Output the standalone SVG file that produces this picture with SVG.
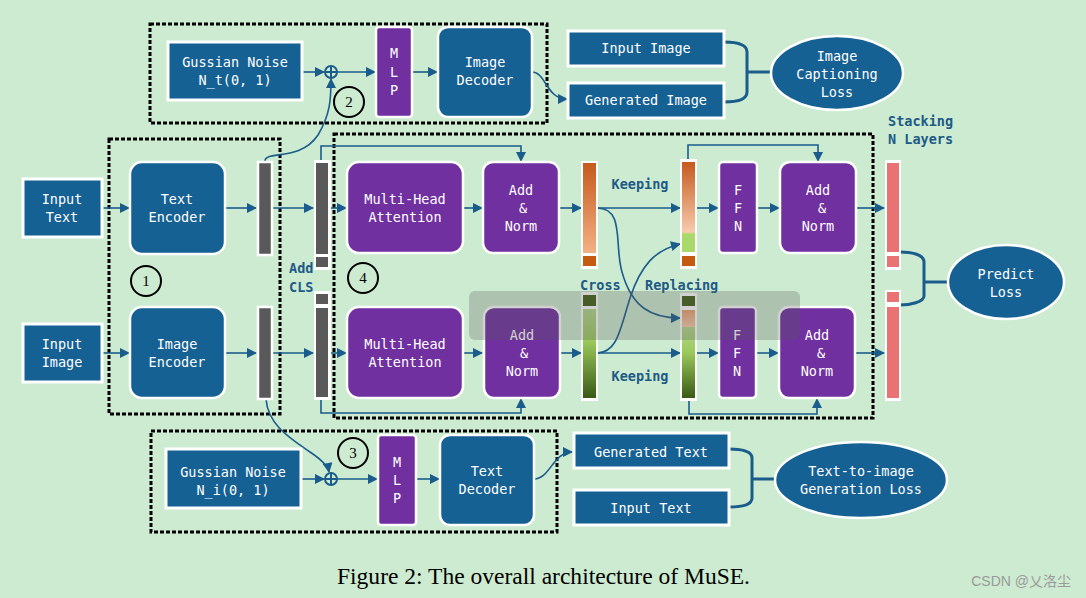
<svg xmlns="http://www.w3.org/2000/svg" width="1086" height="598" viewBox="0 0 1086 598">
<defs>
<marker id="ah" viewBox="0 0 10 10" refX="9" refY="5" markerWidth="11" markerHeight="10" markerUnits="userSpaceOnUse" orient="auto">
<path d="M0,0 L10,5 L0,10 z" fill="#1a5c8c"/>
</marker>
<linearGradient id="gOr" x1="0" y1="0" x2="0" y2="1">
<stop offset="0" stop-color="#c55a1e"/><stop offset="1" stop-color="#f4b183"/>
</linearGradient>
<linearGradient id="gMixTop" x1="0" y1="0" x2="0" y2="1">
<stop offset="0" stop-color="#c55a1e"/><stop offset="0.78" stop-color="#f8cbad"/><stop offset="0.8" stop-color="#a9d96a"/><stop offset="1" stop-color="#a9d96a"/>
</linearGradient>
<linearGradient id="gGr" x1="0" y1="0" x2="0" y2="1">
<stop offset="0" stop-color="#b3d68f"/><stop offset="0.35" stop-color="#9ccb5c"/><stop offset="1" stop-color="#3a5a15"/>
</linearGradient>
<linearGradient id="gPeach" x1="0" y1="0" x2="0" y2="1">
<stop offset="0" stop-color="#e9a070"/><stop offset="1" stop-color="#f8cbad"/>
</linearGradient>
</defs>
<style>
.bg{fill:#cdebd0}
.blue{fill:#156194;stroke:#fff;stroke-width:3}
.rblue{fill:#156194;stroke:#fff;stroke-width:2.5}
.purp{fill:#7030a0;stroke:#fff;stroke-width:2.5}
.dash{fill:none;stroke:#000;stroke-width:3;stroke-dasharray:4 2}
.wt{font-family:"DejaVu Sans Mono","Liberation Mono",monospace;font-size:13.5px;fill:#fff;text-anchor:middle}
.lb{font-family:"DejaVu Sans Mono","Liberation Mono",monospace;font-size:13.5px;font-weight:bold;fill:#1e5a87}
.ln{fill:none;stroke:#1a5c8c;stroke-width:1.6}
.ar{fill:none;stroke:#1a5c8c;stroke-width:1.6;marker-end:url(#ah)}
.br{fill:none;stroke:#1a5c8c;stroke-width:3}
.circ{fill:none;stroke:#000;stroke-width:2}
.num{font-family:"Liberation Serif",serif;font-size:15px;fill:#000;text-anchor:middle}
.gbar{fill:#595959;stroke:#fff;stroke-width:2.5}
.wbg{fill:#fff}
.pink{fill:#e87372}
.ell{fill:#156194;stroke:#fff;stroke-width:2.5}
</style>
<rect class="bg" x="0" y="0" width="1086" height="598"/>

<!-- dashed groups -->
<g id="dashed-boxes">
<rect class="dash" x="150" y="24" width="397" height="99"/>
<rect class="dash" x="109" y="139" width="171" height="275"/>
<rect class="dash" x="334" y="134" width="539" height="284"/>
<rect class="dash" x="151" y="431" width="406" height="101"/>
</g>

<!-- connectors -->
<g id="connectors">
<!-- top branch -->
<line class="ar" x1="302" y1="72" x2="324" y2="72"/>
<line class="ar" x1="337" y1="72" x2="375" y2="72"/>
<line class="ar" x1="412" y1="72" x2="437" y2="72"/>
<path class="ar" d="M532,72 C546,72 546,99 567,99"/>
<path class="ar" d="M265,161 C265,150 300,162 318,135 C330,115 331,100 331,79"/>
<!-- encoders -->
<line class="ar" x1="102" y1="208" x2="129" y2="208"/>
<line class="ar" x1="102" y1="353" x2="129" y2="353"/>
<line class="ar" x1="225" y1="208" x2="256" y2="208"/>
<line class="ar" x1="225" y1="353" x2="256" y2="353"/>
<line class="ar" x1="272" y1="208" x2="313" y2="208"/>
<line class="ar" x1="272" y1="353" x2="313" y2="353"/>
<line class="ar" x1="330" y1="208" x2="346" y2="208"/>
<line class="ar" x1="330" y1="353" x2="346" y2="353"/>
<line class="ar" x1="463" y1="208" x2="482" y2="208"/>
<line class="ar" x1="463" y1="353" x2="482" y2="353"/>
<line class="ar" x1="559" y1="208" x2="581" y2="208"/>
<line class="ar" x1="559" y1="353" x2="581" y2="353"/>
<!-- residuals -->
<path class="ar" d="M321,161 V146 H521 V161"/>
<path class="ar" d="M321,399 V413 H521 V399"/>
<path class="ar" d="M688,160 V145 H818 V161"/>
<path class="ar" d="M689,400 V414 H817 V399"/>
<!-- keeping -->
<line class="ar" x1="597" y1="208" x2="680" y2="208"/>
<line class="ar" x1="597" y1="353" x2="680" y2="353"/>
<!-- cross replacing -->
<path class="ar" d="M597,208 C625,208 614,245 622,272 C632,308 652,318 680,318"/>
<path class="ar" d="M597,353 C617,353 620,330 630,298 C641,265 655,250 680,244"/>
<!-- ffn -->
<line class="ar" x1="696" y1="208" x2="718" y2="208"/>
<line class="ar" x1="696" y1="353" x2="718" y2="353"/>
<line class="ar" x1="757" y1="208" x2="779" y2="208"/>
<line class="ar" x1="757" y1="353" x2="778" y2="353"/>
<line class="ar" x1="856" y1="208" x2="884" y2="208"/>
<line class="ar" x1="855" y1="353" x2="884" y2="353"/>
<!-- bottom branch -->
<path class="ar" d="M266,399 C268,425 290,438 310,452 C322,460 328,466 329,472"/>
<line class="ar" x1="301" y1="479" x2="324" y2="479"/>
<line class="ar" x1="337" y1="479" x2="377" y2="479"/>
<line class="ar" x1="416" y1="479" x2="439" y2="479"/>
<path class="ar" d="M534,479 C550,479 553,452 572,452"/>
<!-- brackets -->
<path class="br" d="M724,42 C735,42 747,44 747,52 V92 C747,100 735,102 724,102"/>
<line class="br" x1="747" y1="72" x2="770" y2="72"/>
<path class="br" d="M900,252 C910,252 924,254 924,262 V296 C924,302 910,305 900,305"/>
<line class="br" x1="924" y1="282" x2="948" y2="282"/>
<path class="br" d="M729,449 C740,449 752,451 752,458 V498 C752,505 740,507 729,507"/>
<line class="br" x1="752" y1="479" x2="778" y2="479"/>
</g>

<!-- plus nodes -->
<g id="plus-top">
<circle cx="331" cy="72" r="6" fill="none" stroke="#1a5c8c" stroke-width="2"/>
<line x1="325" y1="72" x2="337" y2="72" stroke="#1a5c8c" stroke-width="2"/>
<line x1="331" y1="66" x2="331" y2="78" stroke="#1a5c8c" stroke-width="2"/>
</g>
<g id="plus-bottom">
<circle cx="331" cy="479" r="6" fill="none" stroke="#1a5c8c" stroke-width="2"/>
<line x1="325" y1="479" x2="337" y2="479" stroke="#1a5c8c" stroke-width="2"/>
<line x1="331" y1="473" x2="331" y2="485" stroke="#1a5c8c" stroke-width="2"/>
</g>

<!-- top branch nodes -->
<g id="noise-t">
<rect class="blue" x="168" y="42" width="134" height="58"/>
<text class="wt" x="235" y="67">Gussian Noise</text>
<text class="wt" x="235" y="85">N_t(0, 1)</text>
</g>
<g id="mlp-top">
<rect class="purp" x="376" y="27" width="36" height="90" rx="3"/>
<text class="wt" x="394" y="58">M</text>
<text class="wt" x="394" y="77">L</text>
<text class="wt" x="394" y="95">P</text>
</g>
<g id="image-decoder">
<rect class="rblue" x="438" y="27" width="94" height="90" rx="10"/>
<text class="wt" x="485" y="67">Image</text>
<text class="wt" x="485" y="85">Decoder</text>
</g>
<g id="input-image-top">
<rect class="blue" x="568" y="31" width="156" height="35"/>
<text class="wt" x="646" y="53">Input Image</text>
</g>
<g id="generated-image">
<rect class="blue" x="568" y="83" width="156" height="35"/>
<text class="wt" x="646" y="105">Generated Image</text>
</g>
<g id="image-captioning-loss">
<ellipse class="ell" cx="837" cy="73" rx="66" ry="37"/>
<text class="wt" x="837" y="61">Image</text>
<text class="wt" x="837" y="79">Captioning</text>
<text class="wt" x="837" y="97">Loss</text>
</g>

<!-- encoders -->
<g id="input-text">
<rect class="blue" x="23" y="179" width="79" height="58"/>
<text class="wt" x="62" y="204">Input</text>
<text class="wt" x="62" y="222">Text</text>
</g>
<g id="input-image">
<rect class="blue" x="23" y="324" width="79" height="58"/>
<text class="wt" x="62" y="349">Input</text>
<text class="wt" x="62" y="367">Image</text>
</g>
<g id="text-encoder">
<rect class="rblue" x="130" y="162" width="95" height="92" rx="12"/>
<text class="wt" x="177" y="204">Text</text>
<text class="wt" x="177" y="222">Encoder</text>
</g>
<g id="image-encoder">
<rect class="rblue" x="130" y="307" width="95" height="91" rx="12"/>
<text class="wt" x="177" y="349">Image</text>
<text class="wt" x="177" y="367">Encoder</text>
</g>
<g id="text-feat">
<rect class="gbar" x="258" y="162" width="14" height="93"/>
</g>
<g id="image-feat">
<rect class="gbar" x="258" y="307" width="14" height="92"/>
</g>
<g id="text-cls">
<rect class="wbg" x="314" y="160" width="17" height="110"/>
<rect fill="#595959" x="316" y="163" width="12" height="91"/>
<rect fill="#595959" x="316" y="257" width="12" height="10"/>
</g>
<g id="image-cls">
<rect class="wbg" x="314" y="291" width="17" height="109"/>
<rect fill="#595959" x="316" y="294" width="12" height="10"/>
<rect fill="#595959" x="316" y="308" width="12" height="89"/>
</g>
<g id="label-addcls">
<text class="lb" x="289" y="273">Add</text>
<text class="lb" x="289" y="292">CLS</text>
</g>
<g id="circle-1"><circle class="circ" cx="146" cy="281" r="15"/><text class="num" x="146" y="286">1</text></g>
<g id="circle-2"><circle class="circ" cx="349" cy="102" r="15"/><text class="num" x="349" y="107">2</text></g>
<g id="circle-3"><circle class="circ" cx="353" cy="453" r="15"/><text class="num" x="353" y="458">3</text></g>
<g id="circle-4"><circle class="circ" cx="363" cy="278" r="15"/><text class="num" x="363" y="283">4</text></g>

<!-- transformer -->
<g id="mha-top">
<rect class="purp" x="347" y="162" width="116" height="91" rx="12"/>
<text class="wt" x="405" y="204">Multi-Head</text>
<text class="wt" x="405" y="222">Attention</text>
</g>
<g id="mha-bottom">
<rect class="purp" x="347" y="307" width="116" height="91" rx="12"/>
<text class="wt" x="405" y="349">Multi-Head</text>
<text class="wt" x="405" y="367">Attention</text>
</g>
<g id="addnorm1-top">
<rect class="purp" x="483" y="162" width="76" height="91" rx="10"/>
<text class="wt" x="521" y="195">Add</text>
<text class="wt" x="523" y="213">&amp;</text>
<text class="wt" x="521" y="231">Norm</text>
</g>
<g id="addnorm1-bottom">
<rect class="purp" x="484" y="307" width="76" height="91" rx="10"/>
<text class="wt" x="522" y="340">Add</text>
<text class="wt" x="524" y="358">&amp;</text>
<text class="wt" x="522" y="376">Norm</text>
</g>
<g id="orange-feat">
<rect class="wbg" x="581" y="161" width="17" height="108"/>
<rect fill="url(#gOr)" x="583" y="163" width="13" height="90"/>
<rect fill="#c55a11" x="583" y="256" width="13" height="10"/>
</g>
<g id="green-feat">
<rect class="wbg" x="581" y="292" width="17" height="109"/>
<rect fill="#3f5f16" x="583" y="295" width="13" height="11"/>
<rect fill="url(#gGr)" x="583" y="309" width="13" height="89"/>
</g>
<g id="mixed-top">
<rect class="wbg" x="680" y="159" width="17" height="110"/>
<rect fill="url(#gMixTop)" x="682" y="162" width="13" height="90"/>
<rect fill="#c55a11" x="682" y="256" width="13" height="10"/>
</g>
<g id="mixed-bottom">
<rect class="wbg" x="680" y="293" width="17" height="108"/>
<rect fill="#3f5f16" x="682" y="296" width="13" height="10"/>
<rect fill="url(#gPeach)" x="682" y="310" width="13" height="17"/>
<rect fill="url(#gGr)" x="682" y="327" width="13" height="71"/>
</g>
<g id="labels">
<text class="lb" x="640" y="189" text-anchor="middle">Keeping</text>
<text class="lb" x="640" y="381" text-anchor="middle">Keeping</text>
<text class="lb" x="580" y="290">Cross</text>
<text class="lb" x="645" y="290">Replacing</text>
<text class="lb" x="888" y="126">Stacking</text>
<text class="lb" x="888" y="144">N Layers</text>
</g>
<g id="ffn-top">
<rect class="purp" x="719" y="162" width="38" height="91" rx="4"/>
<text class="wt" x="738" y="195">F</text>
<text class="wt" x="738" y="213">F</text>
<text class="wt" x="738" y="231">N</text>
</g>
<g id="ffn-bottom">
<rect class="purp" x="719" y="307" width="37" height="91" rx="4"/>
<text class="wt" x="737" y="340">F</text>
<text class="wt" x="737" y="358">F</text>
<text class="wt" x="737" y="376">N</text>
</g>
<g id="addnorm2-top">
<rect class="purp" x="780" y="162" width="76" height="91" rx="10"/>
<text class="wt" x="818" y="195">Add</text>
<text class="wt" x="822" y="213">&amp;</text>
<text class="wt" x="818" y="231">Norm</text>
</g>
<g id="addnorm2-bottom">
<rect class="purp" x="779" y="307" width="76" height="91" rx="10"/>
<text class="wt" x="817" y="340">Add</text>
<text class="wt" x="821" y="358">&amp;</text>
<text class="wt" x="817" y="376">Norm</text>
</g>
<g id="out-top">
<rect class="wbg" x="885" y="160" width="16" height="110"/>
<rect class="pink" x="887" y="163" width="12" height="89"/>
<rect class="pink" x="887" y="256" width="12" height="11"/>
</g>
<g id="out-bottom">
<rect class="wbg" x="885" y="290" width="16" height="111"/>
<rect class="pink" x="887" y="292" width="12" height="10"/>
<rect class="pink" x="887" y="307" width="12" height="91"/>
</g>
<g id="predict-loss">
<ellipse class="ell" cx="1006" cy="282" rx="58" ry="37"/>
<text class="wt" x="1006" y="279">Predict</text>
<text class="wt" x="1006" y="297">Loss</text>
</g>

<!-- bottom branch -->
<g id="noise-i">
<rect class="blue" x="166" y="449" width="135" height="59"/>
<text class="wt" x="233" y="477">Gussian Noise</text>
<text class="wt" x="233" y="495">N_i(0, 1)</text>
</g>
<g id="mlp-bottom">
<rect class="purp" x="378" y="435" width="38" height="90" rx="3"/>
<text class="wt" x="397" y="467">M</text>
<text class="wt" x="397" y="485">L</text>
<text class="wt" x="397" y="503">P</text>
</g>
<g id="text-decoder">
<rect class="rblue" x="440" y="435" width="94" height="90" rx="10"/>
<text class="wt" x="487" y="476">Text</text>
<text class="wt" x="487" y="494">Decoder</text>
</g>
<g id="generated-text">
<rect class="blue" x="574" y="433" width="155" height="35"/>
<text class="wt" x="651" y="457">Generated Text</text>
</g>
<g id="input-text-bottom">
<rect class="blue" x="574" y="490" width="155" height="35"/>
<text class="wt" x="651" y="513">Input Text</text>
</g>
<g id="t2i-loss">
<ellipse class="ell" cx="861" cy="480" rx="86" ry="38"/>
<text class="wt" x="861" y="476">Text-to-image</text>
<text class="wt" x="861" y="494">Generation Loss</text>
</g>

<!-- overlay toolbar (screenshot artifact) -->
<rect x="469" y="291" width="331" height="49" rx="6" fill="#5a5a5a" fill-opacity="0.28"/>

<text x="337" y="584" font-family="Liberation Serif, serif" font-size="23" textLength="413" lengthAdjust="spacingAndGlyphs" fill="#000">Figure 2: The overall architecture of MuSE.</text>
<text x="1071" y="586" font-family="Liberation Sans, Noto Sans CJK SC, sans-serif" font-size="14" text-anchor="end" fill="#9a9a9a">CSDN @乂洛尘</text>
</svg>
